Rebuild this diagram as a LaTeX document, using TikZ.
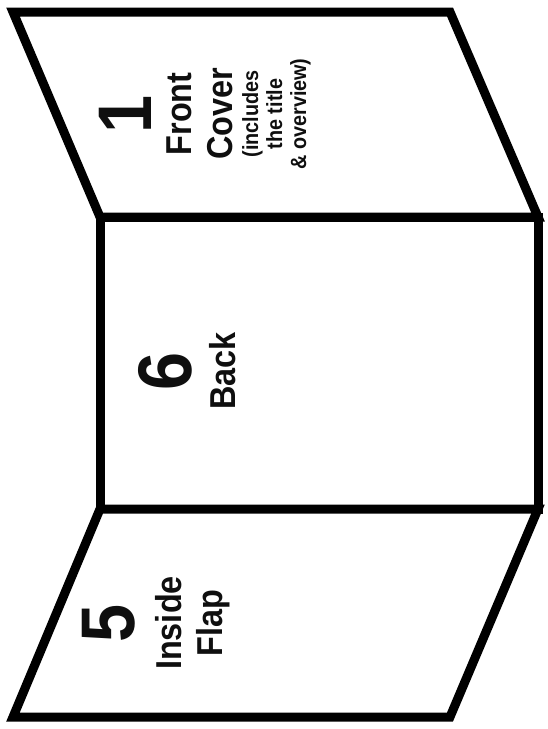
\documentclass[tikz,border=0pt]{standalone}
\usepackage{fontspec}
\setmainfont{Liberation Sans}
\newfontfamily\panelfont[FakeStretch=0.9]{Liberation Sans}
\usepackage{tikz}
\usetikzlibrary{
  positioning
}
\definecolor{foldcolor}{RGB}{0, 0, 0}
\definecolor{labelcolor}{RGB}{15, 15, 15}
\tikzset{
panel/.style={
  draw=foldcolor,
  line width=9pt,
  line join=miter,
  fill=white
},
numlabel/.style={
  font=\panelfont\bfseries\fontsize{76}{80}\selectfont,
  text=labelcolor,
  inner sep=0pt
},
titlelabel/.style={
  font=\panelfont\bfseries\fontsize{36}{41}\selectfont,
  text=labelcolor,
  align=center,
  inner sep=0pt
},
sublabel/.style={
  font=\panelfont\bfseries\fontsize{22}{24}\selectfont,
  text=labelcolor,
  align=center,
  inner sep=0pt
}
}

\begin{document}
\begin{tikzpicture}[x=1pt, y=-1pt]
        \useasboundingbox[fill=white] (0,0) rectangle (548,729);

        \coordinate (topL) at (13,12);
        \coordinate (topR) at (450,12);
        \coordinate (foldTR) at (538,217);
        \coordinate (foldTL) at (100,217);
        \coordinate (foldBL) at (100,509);
        \coordinate (foldBR) at (538,509);
        \coordinate (botR) at (450,717);
        \coordinate (botL) at (13,717);

        \draw[panel] (topL) -- (topR) -- (foldTR) -- (foldTL) -- cycle;
        \draw[panel] (foldTL) -- (foldTR) -- (foldBR) -- (foldBL) -- cycle;
        \draw[panel] (foldBL) -- (foldBR) -- (botR) -- (botL) -- cycle;

        \coordinate (front) at (125,114);
        \coordinate (back) at (165,371);
        \coordinate (flap) at (109,623);

        \begin{scope}[rotate=90, transform shape]
          \node[numlabel] (num1) at (front) {1};
          \node[titlelabel, below=15pt of num1] (cover) {Front\\Cover};
          \node[sublabel, below=9pt of cover] (coverinfo) {(includes\\the title\\\& overview)};

          \node[numlabel] (num6) at (back) {6};
          \node[titlelabel, below=17pt of num6] (backtitle) {Back};

          \node[numlabel] (num5) at (flap) {5};
          \node[titlelabel, below=19pt of num5] (flaptitle) {Inside\\Flap};
        \end{scope}
      \end{tikzpicture}
\end{document}
